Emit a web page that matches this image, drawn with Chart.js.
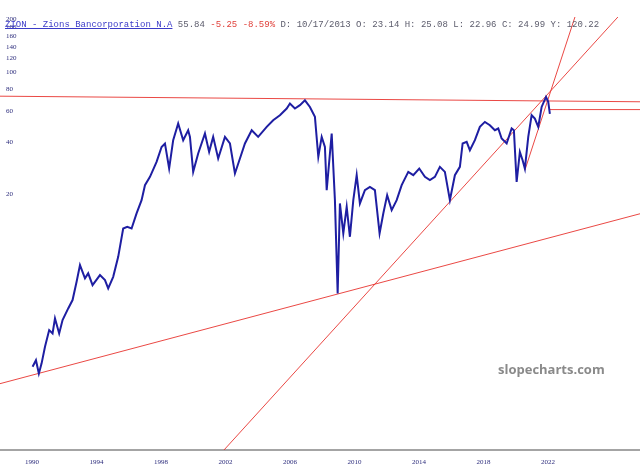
<!DOCTYPE html>
<html>
<head>
<meta charset="utf-8">
<script src="https://cdn.jsdelivr.net/npm/chart.js@4.4.1/dist/chart.umd.min.js"></script>
<style>
    html, body { margin: 0; padding: 0; background: #ffffff; }
    #wrap { position: relative; width: 640px; height: 474px; overflow: hidden; }
    #hdr {
        position: absolute; left: 5px; top: 19px;
        font: 9px "Liberation Mono", "DejaVu Sans Mono", monospace;
        line-height: 12px; color: #5c5c6c; white-space: pre;
    }
    #hdr .sym { color: #3b3bc8; text-decoration: underline; }
    #hdr .neg { color: #e0403a; }
    #mark {
        position: absolute; left: 498px; top: 360px;
        font: bold 13px "Open Sans", "Liberation Sans", sans-serif;
        color: #8a8a8a;
    }
</style>
</head>
<body>
<div id="wrap">
    <canvas id="chart" width="640" height="474"></canvas>
    <div id="hdr"><span class="sym">ZION - Zions Bancorporation N.A</span> 55.84 <span class="neg">-5.25 -8.59%</span> D: 10/17/2013 O: 23.14 H: 25.08 L: 22.96 C: 24.99 Y: 120.22</div>
    <div id="mark">slopecharts.com</div>
</div>
<script>
// prix (log), date en années décimales
const YEARS = [
    1990.04, 1990.25, 1990.43, 1990.60, 1990.81, 1991.07, 1991.28, 1991.43, 1991.69, 1991.90,
    1992.25, 1992.52, 1992.77, 1992.98, 1993.29, 1993.49, 1993.76, 1994.22, 1994.53, 1994.73,
    1995.04, 1995.35, 1995.66, 1995.91, 1996.18, 1996.49, 1996.80, 1997.01, 1997.32, 1997.73,
    1998.04, 1998.25, 1998.51, 1998.76, 1999.07, 1999.38, 1999.69, 1999.80, 2000.00, 2000.31,
    2000.73, 2000.99, 2001.24, 2001.55, 2001.97, 2002.28, 2002.59, 2002.90, 2003.21, 2003.63,
    2004.03, 2004.56, 2004.96, 2005.38, 2005.80, 2006.00, 2006.31, 2006.62, 2006.93, 2007.24,
    2007.55, 2007.76, 2007.97, 2008.17, 2008.28, 2008.59, 2008.79, 2008.96, 2009.10, 2009.31,
    2009.52, 2009.72, 2009.93, 2010.14, 2010.34, 2010.65, 2010.96, 2011.27, 2011.56, 2011.79,
    2012.03, 2012.31, 2012.62, 2012.93, 2013.34, 2013.65, 2014.02, 2014.37, 2014.68, 2014.99,
    2015.30, 2015.61, 2015.92, 2016.23, 2016.54, 2016.71, 2016.96, 2017.16, 2017.47, 2017.78,
    2018.09, 2018.40, 2018.71, 2018.92, 2019.13, 2019.44, 2019.75, 2019.89, 2020.02, 2020.06,
    2020.26, 2020.43, 2020.57, 2020.78, 2020.99, 2021.19, 2021.40, 2021.61, 2021.88, 2022.02,
    2022.12
];
const PRICES = [
    2.00, 2.18, 1.83, 2.09, 2.60, 3.24, 3.10, 3.78, 3.10, 3.70,
    4.31, 4.81, 6.12, 7.63, 6.40, 6.84, 5.86, 6.68, 6.26, 5.61,
    6.53, 8.50, 12.35, 12.62, 12.35, 15.05, 17.93, 21.84, 24.36, 29.68,
    36.14, 37.82, 27.20, 39.48, 49.19, 39.48, 45.04, 41.25, 26.02, 33.16,
    43.14, 33.86, 41.25, 31.04, 41.25, 37.82, 25.48, 31.04, 37.82, 45.04,
    41.25, 47.04, 51.38, 54.88, 59.94, 64.00, 59.94, 62.60, 66.80, 61.20,
    53.70, 31.70, 41.25, 36.14, 20.45, 43.14, 17.93, 5.25, 17.17, 11.57,
    16.42, 11.07, 17.93, 24.91, 17.17, 20.45, 21.36, 20.45, 11.57, 15.05,
    19.15, 15.72, 17.93, 21.84, 26.02, 24.91, 27.20, 24.36, 23.33, 24.36,
    27.80, 26.02, 17.93, 24.91, 27.80, 37.82, 38.62, 34.62, 39.48, 47.04,
    50.24, 48.10, 45.04, 46.06, 40.38, 37.82, 46.06, 45.04, 26.61, 22.82,
    33.86, 30.36, 27.20, 41.25, 54.88, 52.54, 47.04, 61.20, 69.80, 65.40,
    55.84
];

// lignes de tendance (deux points chacune)
const TOP_LINE_YEARS = [1988.02, 2027.71];
const TOP_LINE_PRICES = [70.5, 65.5];
const FLAT_LINE_YEARS = [2022.10, 2027.71];
const FLAT_LINE_PRICES = [59.1, 59.1];
const LOW_LINE_YEARS = [1988.02, 2027.71];
const LOW_LINE_PRICES = [1.60, 14.99];
const MID_LINE_YEARS = [2001.80, 2027.71];
const MID_LINE_PRICES = [0.651, 275.4];
const STEEP_LINE_YEARS = [2020.57, 2023.98];
const STEEP_LINE_PRICES = [26.61, 243.7];

const X_TICKS = [1990, 1994, 1998, 2002, 2006, 2010, 2014, 2018, 2022];
const Y_TICKS = [20, 40, 60, 80, 100, 120, 140, 160, 180, 200];

const LINE_RED = 'rgba(232, 52, 48, 0.9)';
const PRICE_BLUE = '#1e1ea2';

function toPoints(xs, ys) {
    return xs.map((x, i) => ({ x: x, y: ys[i] }));
}

function trend(xs, ys) {
    return {
        data: toPoints(xs, ys),
        borderColor: LINE_RED,
        borderWidth: 1,
        pointRadius: 0,
        clip: 0,
        order: 2
    };
}

const ctx = document.getElementById('chart').getContext('2d');
new Chart(ctx, {
    type: 'line',
    data: {
        datasets: [
            {
                data: toPoints(YEARS, PRICES),
                borderColor: PRICE_BLUE,
                borderWidth: 2,
                pointRadius: 0,
                tension: 0,
                order: 1
            },
            trend(TOP_LINE_YEARS, TOP_LINE_PRICES),
            trend(FLAT_LINE_YEARS, FLAT_LINE_PRICES),
            trend(LOW_LINE_YEARS, LOW_LINE_PRICES),
            trend(MID_LINE_YEARS, MID_LINE_PRICES),
            trend(STEEP_LINE_YEARS, STEEP_LINE_PRICES)
        ]
    },
    options: {
        responsive: false,
        animation: false,
        layout: { padding: { top: 17, left: 0, right: 0, bottom: 0 } },
        plugins: {
            legend: { display: false },
            tooltip: { enabled: false }
        },
        scales: {
            x: {
                type: 'linear',
                min: 1988.02,
                max: 2027.71,
                afterBuildTicks: s => { s.ticks = X_TICKS.map(v => ({ value: v })); },
                afterFit: s => { s.height = 24; },
                grid: { display: false },
                border: { color: '#a4a4a4', width: 2 },
                ticks: {
                    autoSkip: false,
                    maxRotation: 0,
                    padding: 0,
                    color: '#2c2c7c',
                    font: { family: '"Liberation Serif", serif', size: 7 },
                    callback: v => String(v)
                }
            },
            y: {
                type: 'logarithmic',
                min: 0.668,
                max: 200,
                afterBuildTicks: s => { s.ticks = Y_TICKS.map(v => ({ value: v })); },
                afterFit: s => { s.width = 0; },
                grid: { display: false },
                border: { display: false },
                ticks: {
                    mirror: true,
                    padding: 6,
                    color: '#2c2c7c',
                    font: { family: '"Liberation Serif", serif', size: 7, lineHeight: 0.75 },
                    // ligne vide devant: le libellé tombe un peu sous le repère
                    callback: v => ['', String(v)]
                }
            }
        }
    }
});
</script>
</body>
</html>
